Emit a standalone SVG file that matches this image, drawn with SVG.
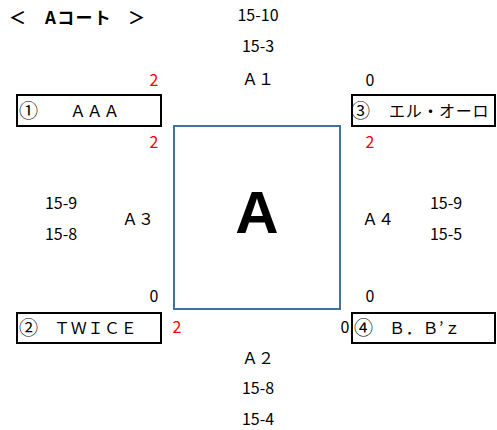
<svg xmlns="http://www.w3.org/2000/svg" width="497" height="430" viewBox="0 0 497 430">
<style>
text { font-family: "Noto Sans CJK JP", "Liberation Sans", sans-serif; font-size: 16px; fill: #000; }
.c { text-anchor: middle; }
.red { fill: #ff0000; }
.team { fill: #fff; stroke: #000; stroke-width: 2; }
.name { letter-spacing: 0.7px; }
.num { font-size: 19px; }
.court { fill: #fff; stroke: #41719c; stroke-width: 2; }
.title { font-weight: bold; font-size: 17px; }
.big { font-family: "Liberation Sans", Arial, sans-serif; font-weight: bold; font-size: 60px; text-anchor: middle; }
</style>
<rect width="497" height="430" fill="#fff"/>
<g id="title"><text class="title" y="24"><tspan x="9">＜</tspan><tspan x="45" letter-spacing="1.3">Aコート</tspan><tspan x="128">＞</tspan></text></g>
<g id="court">
<rect class="court" x="174" y="126" width="166" height="183"/>
<text class="big" x="257" y="233">A</text>
</g>
<g id="team1"><rect class="team" x="17" y="95" width="144" height="31"/><text y="118"><tspan class="num" x="19">①</tspan><tspan class="name" x="70" y="117">ＡＡＡ</tspan></text></g>
<g id="team3"><rect class="team" x="352" y="95" width="143" height="31"/><text y="118"><tspan class="num" x="351">③</tspan><tspan class="name" x="389" y="117">エル・オーロ</tspan></text></g>
<g id="team2"><rect class="team" x="17" y="313" width="144" height="30"/><text y="335"><tspan class="num" x="19">②</tspan><tspan class="name" x="54" y="334">ＴＷＩＣＥ</tspan></text></g>
<g id="team4"><rect class="team" x="352" y="313" width="143" height="30"/><text y="335"><tspan class="num" x="354">④</tspan><tspan class="name" x="389" y="334">Ｂ．Ｂ’ｚ</tspan></text></g>
<g id="matches">
<text class="c" x="258" y="21">15-10</text>
<text class="c" x="258" y="52">15-3</text>
<text class="c" x="258" y="85">Ａ１</text>
<text class="c" x="61" y="209">15-9</text>
<text class="c" x="61" y="240">15-8</text>
<text class="c" x="138" y="225">Ａ３</text>
<text class="c" x="378" y="225">Ａ４</text>
<text class="c" x="446" y="209">15-9</text>
<text class="c" x="446" y="240">15-5</text>
<text class="c" x="258" y="364">Ａ２</text>
<text class="c" x="258" y="394">15-8</text>
<text class="c" x="258" y="425">15-4</text>
</g>
<g id="scores">
<text class="c red" x="154" y="86">2</text>
<text class="c" x="370" y="86">0</text>
<text class="c red" x="154" y="148">2</text>
<text class="c red" x="370" y="148">2</text>
<text class="c" x="154" y="302">0</text>
<text class="c" x="370" y="302">0</text>
<text class="c red" x="177" y="333">2</text>
<text class="c" x="345" y="333">0</text>
</g>
</svg>
